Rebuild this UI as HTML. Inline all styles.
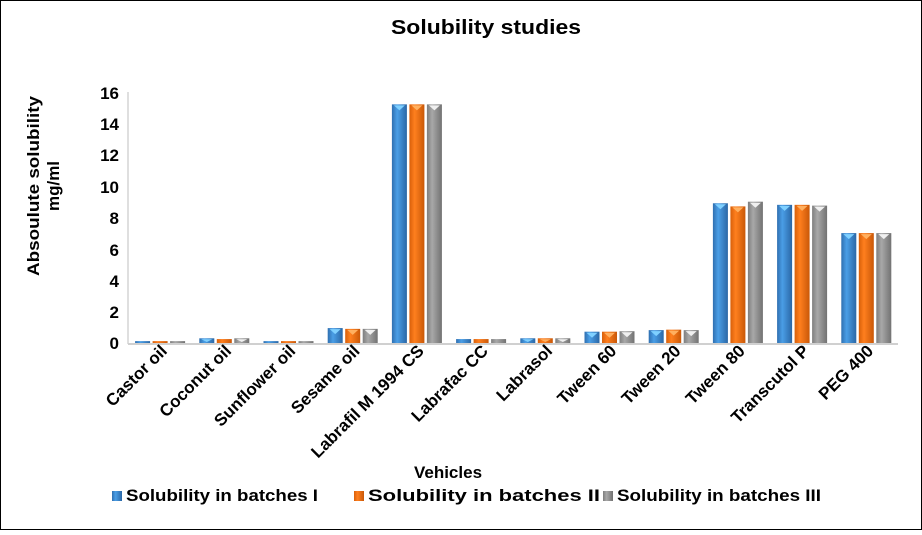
<!DOCTYPE html>
<html><head><style>
body{margin:0;background:#fff}
svg text{font-family:"Liberation Sans",Arial,sans-serif;font-weight:bold;fill:#000}
</style></head><body>
<svg width="922" height="530" xmlns="http://www.w3.org/2000/svg">
<defs>
<linearGradient id="gb" x1="0" x2="1"><stop offset="0" stop-color="#2f6fb0"/><stop offset="0.35" stop-color="#4a9ee6"/><stop offset="1" stop-color="#2a67a6"/></linearGradient>
<linearGradient id="go" x1="0" x2="1"><stop offset="0" stop-color="#d8600a"/><stop offset="0.35" stop-color="#ff7f1e"/><stop offset="1" stop-color="#c95808"/></linearGradient>
<linearGradient id="gg" x1="0" x2="1"><stop offset="0" stop-color="#7e7e7e"/><stop offset="0.35" stop-color="#a8a8a8"/><stop offset="1" stop-color="#727272"/></linearGradient>
</defs>
<rect x="0.5" y="0.5" width="921" height="529" fill="#fff" stroke="#000"/>
<text x="486" y="34" font-size="20" text-anchor="middle" textLength="190" lengthAdjust="spacingAndGlyphs">Solubility studies</text>
<line x1="128" y1="92" x2="128" y2="344" stroke="#bfbfbf"/>
<line x1="128" y1="344" x2="898" y2="344" stroke="#d0d0d0" stroke-width="2"/>
<g font-size="17" text-anchor="end">
<text x="119" y="349">0</text><text x="119" y="318">2</text><text x="119" y="287">4</text><text x="119" y="256">6</text><text x="119" y="224">8</text><text x="119" y="193">10</text><text x="119" y="161">12</text><text x="119" y="130">14</text><text x="119" y="99">16</text>
</g>
<text transform="translate(39,186) rotate(-90)" font-size="17" text-anchor="middle" textLength="180" lengthAdjust="spacingAndGlyphs">Absoulute solubility</text>
<text transform="translate(59,186) rotate(-90)" font-size="17" text-anchor="middle">mg/ml</text>
<g id="bars"></g>
<g id="xl" font-size="17" text-anchor="end"></g>
<text x="448" y="478" font-size="17" text-anchor="middle">Vehicles</text>
<g font-size="17">
<rect x="112" y="491" width="10" height="10" fill="url(#gb)"/><text x="126" y="501" textLength="192" lengthAdjust="spacingAndGlyphs">Solubility in batches I</text>
<rect x="354" y="491" width="10" height="10" fill="url(#go)"/><text x="368" y="501" textLength="232" lengthAdjust="spacingAndGlyphs">Solubility in batches II</text>
<rect x="603" y="491" width="10" height="10" fill="url(#gg)"/><text x="617" y="501" textLength="204" lengthAdjust="spacingAndGlyphs">Solubility in batches III</text>
</g>
</svg>
<script>
var d=[["Castor oil",.12,.12,.12],["Coconut oil",.3,.25,.3],["Sunflower oil",.12,.12,.12],["Sesame oil",.95,.9,.9],["Labrafil M 1994 CS",15.2,15.2,15.2],["Labrafac CC",.25,.25,.25],["Labrasol",.3,.3,.3],["Tween 60",.72,.72,.75],["Tween 20",.82,.85,.82],["Tween 80",8.9,8.7,9.0],["Transcutol P",8.8,8.8,8.75],["PEG 400",7.0,7.0,7.0]];
var g=document.getElementById("bars"),xl=document.getElementById("xl"),ns="http://www.w3.org/2000/svg",f=["url(#gb)","url(#go)","url(#gg)"],tc=["#7fd0ff","#ffb060","#f0f0f0"];
d.forEach(function(r,i){var c=128+64.2*i+32.1;
for(var k=0;k<3;k++){var v=r[k+1],h=v*15.7,x=c-25+k*17.5,y=343-h;
var e=document.createElementNS(ns,"rect");e.setAttribute("x",x);e.setAttribute("y",y);e.setAttribute("width",15);e.setAttribute("height",h);e.setAttribute("fill",f[k]);g.appendChild(e);
if(h>4){var p=document.createElementNS(ns,"polygon");p.setAttribute("points",(x+2)+","+(y+1)+" "+(x+13)+","+(y+1)+" "+(x+7.5)+","+(y+Math.min(6,h-1)));p.setAttribute("fill",tc[k]);g.appendChild(p);}}
var t=document.createElementNS(ns,"text");t.setAttribute("transform","translate("+(c+8)+",352) rotate(-45)");t.textContent=r[0];xl.appendChild(t);});
</script>
</body></html>
